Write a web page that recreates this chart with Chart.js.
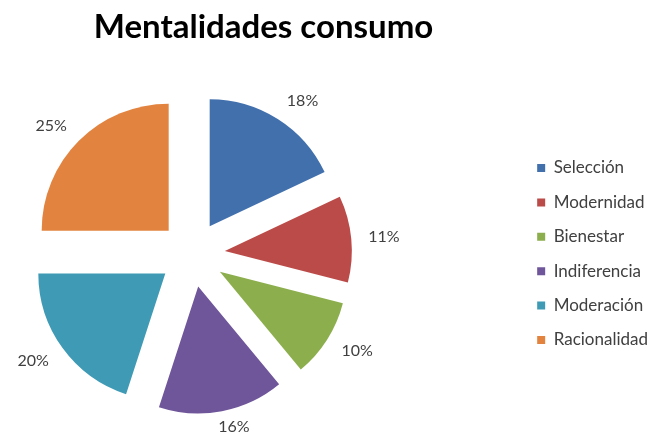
<!DOCTYPE html>
<html>
<head>
<meta charset="utf-8">
<script src="https://cdn.jsdelivr.net/npm/chart.js@4/dist/chart.umd.min.js"></script>
<style>
  html, body { margin: 0; padding: 0; background: #ffffff; }
  canvas { display: block; }
</style>
</head>
<body>
<canvas id="chart" width="657" height="434"></canvas>
<script>
// Consumer mindset shares (percent)
const categories = ['Selección', 'Modernidad', 'Bienestar', 'Indiferencia', 'Moderación', 'Racionalidad'];
const shares = [18, 11, 10, 16, 20, 25];
const sliceColors = ['#4170ad', '#bb4b48', '#8cae4d', '#6f559a', '#3f9bb5', '#e2843f'];
const chartTitle = 'Mentalidades consumo';

const EXPLODE_PX = 33;   // how far each slice is pulled out from the centre
const PIE_RADIUS = 127;
const PIE_CENTER_X = 192;
const LABEL_GAP = 17;

// Keep the pie in the left part of the canvas, the legend sits on the right
const pieArea = {
  id: 'pieArea',
  afterLayout(chart) {
    const a = chart.chartArea;
    const half = PIE_CENTER_X - a.left;
    a.right = PIE_CENTER_X + half;
    a.width = a.right - a.left;
  }
};

// Exploded pie: every slice is shifted outward along its bisector,
// keeping parallel gaps and a common radius
const explodedSlices = {
  id: 'explodedSlices',
  beforeDatasetDraw(chart, args) {
    const ctx = chart.ctx;
    args.meta.data.forEach((arc) => {
      const mid = (arc.startAngle + arc.endAngle) / 2;
      ctx.save();
      ctx.translate(Math.cos(mid) * EXPLODE_PX, Math.sin(mid) * EXPLODE_PX);
      arc.draw(ctx);
      ctx.restore();
    });
    return false;
  }
};

// Percentage labels anchored just outside each exploded slice;
// the text box hangs off the anchor on the outward side
const outsideLabels = {
  id: 'outsideLabels',
  afterDatasetsDraw(chart) {
    const ctx = chart.ctx;
    const meta = chart.getDatasetMeta(0);
    ctx.save();
    ctx.font = '16px Lato';
    ctx.fillStyle = '#404040';
    ctx.textAlign = 'center';
    ctx.textBaseline = 'middle';
    meta.data.forEach((arc, i) => {
      const p = arc.getProps(['x', 'y', 'startAngle', 'endAngle', 'outerRadius'], true);
      const mid = (p.startAngle + p.endAngle) / 2;
      const text = shares[i] + '%';
      const w = ctx.measureText(text).width;
      const h = 16;
      const c = Math.cos(mid), s = Math.sin(mid);
      const d = p.outerRadius + EXPLODE_PX + LABEL_GAP;
      const lx = p.x + c * d + Math.sign(c) * Math.min(1, Math.abs(c) * 3) * w / 2;
      const ly = Math.min(p.y + s * d + s * h / 4, chart.height - 7);
      ctx.fillText(text, lx, ly);
    });
    ctx.restore();
  }
};

new Chart(document.getElementById('chart'), {
  type: 'pie',
  data: {
    labels: categories,
    datasets: [{
      data: shares,
      backgroundColor: sliceColors,
      borderWidth: 0,
      radius: PIE_RADIUS
    }]
  },
  options: {
    responsive: false,
    animation: false,
    layout: { padding: { left: -131, right: -1, top: 0, bottom: 0 } },
    plugins: {
      title: {
        display: true,
        text: chartTitle,
        color: '#000000',
        font: { family: 'Lato', size: 33, weight: 'bold' },
        padding: { top: 8, bottom: 26.4 }
      },
      legend: {
        position: 'right',
        fullSize: false,
        align: 'center',
        labels: {
          boxWidth: 8,
          boxHeight: 8,
          padding: 17.4,
          color: '#404040',
          font: { family: 'Lato', size: 17 }
        }
      },
      tooltip: { enabled: false }
    }
  },
  plugins: [pieArea, explodedSlices, outsideLabels]
});
</script>
</body>
</html>
